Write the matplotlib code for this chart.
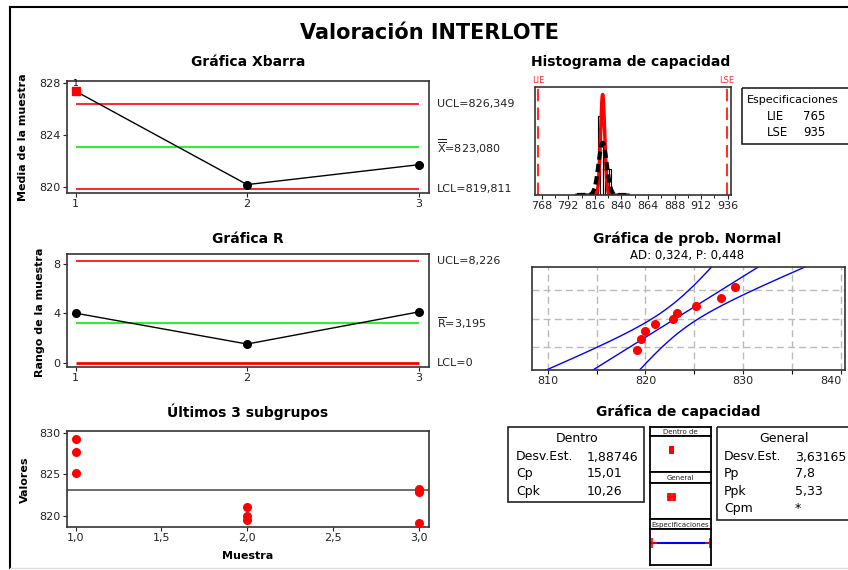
import numpy as np
import matplotlib
matplotlib.use("Agg")
import matplotlib.pyplot as plt
from matplotlib.patches import Rectangle
from matplotlib.ticker import FuncFormatter
from statistics import NormalDist

W, H = 848, 570

# --- data -------------------------------------------------------------
sample_ids = [1, 2, 3]
subgroup_1 = [825.2, 827.7, 829.2]
subgroup_2 = [819.5, 820.0, 821.0]
subgroup_3 = [819.1, 822.8, 823.2]

xbar_ucl, xbar_center, xbar_lcl = 826.349, 823.080, 819.811
r_ucl, r_center, r_lcl = 8.226, 3.195, 0.0
lie, lse = 765, 935
sd_within = 1.88746
sd_overall = 3.63165
cp, cpk = 15.01, 10.26
pp, ppk = 7.8, 5.33
ad_stat, ad_p = 0.324, 0.448

hist_ticks = [768, 792, 816, 840, 864, 888, 912, 936]
prob_ticks = [810, 820, 830, 840]
xbar_ticks = [820, 824, 828]
r_ticks = [0, 4, 8]
last_ticks_y = [820, 825, 830]
last_ticks_x = [1.0, 1.5, 2.0, 2.5, 3.0]

subgroups = [subgroup_1, subgroup_2, subgroup_3]
means = [float(np.mean(s)) for s in subgroups]
ranges = [float(np.max(s) - np.min(s)) for s in subgroups]
all_values = np.concatenate(subgroups)

RED = "#FF0000"
LRED = "#FF3030"
GREEN = "#33EE33"
BLUE = "#0000FF"
plt.rcParams["font.family"] = "DejaVu Sans"
plt.rcParams["mathtext.fontset"] = "dejavusans"


def comma(v, nd):
    return f"{v:.{nd}f}".replace(".", ",")


fig = plt.figure(figsize=(W / 100, H / 100), dpi=100)
fig.patch.set_facecolor("white")

# overlay in pixel coordinates for frame, titles and text boxes
ov = fig.add_axes([0, 0, 1, 1])
ov.set_xlim(0, W)
ov.set_ylim(H, 0)
ov.axis("off")


def px_axes(l, t, r, b):
    return fig.add_axes([l / W, 1 - b / H, (r - l) / W, (b - t) / H])


def style(ax):
    for s in ax.spines.values():
        s.set_linewidth(1.2)
        s.set_color("#333333")
    ax.tick_params(labelsize=8, length=3, width=0.8, direction="out",
                   colors="#222222", pad=1.5)


# outer frame
ov.plot([10, 10], [7, 568], color="black", lw=1.5)
ov.plot([10, W], [7, 7], color="black", lw=1.5)
ov.plot([10, W], [568, 568], color="#DDDDDD", lw=1)

ov.text(430, 33, "Valoración INTERLOTE", ha="center", va="center",
        fontsize=15, fontweight="bold")

# --- Xbar chart ---------------------------------------------------------
ov.text(248, 62, "Gráfica Xbarra", ha="center", va="center", fontsize=10, fontweight="bold")
ax = px_axes(67, 81, 429, 193)
style(ax)
ax.hlines([xbar_ucl, xbar_lcl], 1, 3, color=RED, lw=1.2)
ax.hlines(xbar_center, 1, 3, color=GREEN, lw=1.5)
ax.plot(sample_ids, means, color="black", lw=1, zorder=3)
out = [m > xbar_ucl or m < xbar_lcl for m in means]
for x, m, o in zip(sample_ids, means, out):
    if o:
        ax.plot(x, m, "s", color=RED, ms=6, zorder=4)
        ax.text(x, m + 0.25, "1", ha="center", va="bottom", fontsize=6.5)
    else:
        ax.plot(x, m, "o", color="black", ms=5.5, zorder=4)
ax.set_xlim(0.95, 3.06)
ax.set_ylim(819.52, 828.15)
ax.set_xticks(sample_ids)
ax.set_yticks(xbar_ticks)
for y, lab in [(xbar_ucl, "UCL=" + comma(xbar_ucl, 3)),
               (xbar_center, r"$\overline{\overline{\mathrm{X}}}$=" + comma(xbar_center, 3)),
               (xbar_lcl, "LCL=" + comma(xbar_lcl, 3))]:
    ax.text(1.022, y, lab, transform=ax.get_yaxis_transform(), fontsize=8,
            va="center", ha="left", color="#222222")
ov.text(23, 137, "Media de la muestra", rotation=90, ha="center", va="center",
        fontsize=8, fontweight="bold")

# --- R chart ------------------------------------------------------------
ov.text(248, 239, "Gráfica R", ha="center", va="center", fontsize=10, fontweight="bold")
ax = px_axes(67, 254, 429, 367)
style(ax)
ax.hlines([r_ucl], 1, 3, color=RED, lw=1.2)
ax.hlines([r_lcl], 1, 3, color=RED, lw=2)
ax.hlines(r_center, 1, 3, color=GREEN, lw=1.5)
ax.plot(sample_ids, ranges, color="black", lw=1, marker="o", ms=5.5, zorder=3)
ax.set_xlim(0.95, 3.06)
ax.set_ylim(-0.36, 8.79)
ax.set_xticks(sample_ids)
ax.set_yticks(r_ticks)
for y, lab in [(r_ucl, "UCL=" + comma(r_ucl, 3)),
               (r_center, r"$\overline{\mathrm{R}}$=" + comma(r_center, 3)),
               (r_lcl, "LCL=0")]:
    ax.text(1.022, y, lab, transform=ax.get_yaxis_transform(), fontsize=8,
            va="center", ha="left", color="#222222")
ov.text(40, 312, "Rango de la muestra", rotation=90, ha="center", va="center",
        fontsize=8, fontweight="bold")

# --- last subgroups -----------------------------------------------------
ov.text(248, 412, "Últimos 3 subgrupos", ha="center", va="center", fontsize=10, fontweight="bold")
ax = px_axes(67, 431, 429, 527)
style(ax)
ax.axhline(xbar_center, color="#555555", lw=1.2)
for x, s in zip(sample_ids, subgroups):
    ax.plot([x] * len(s), s, "o", color=RED, ms=5.5, zorder=3)
ax.set_xlim(0.95, 3.06)
ax.set_ylim(818.64, 830.2)
ax.set_xticks(last_ticks_x)
ax.set_yticks(last_ticks_y)
ax.xaxis.set_major_formatter(FuncFormatter(lambda v, p: comma(v, 1)))
ov.text(25, 480, "Valores", rotation=90, ha="center", va="center",
        fontsize=8, fontweight="bold")
ov.text(248, 556, "Muestra", ha="center", va="center", fontsize=8, fontweight="bold")

# --- capability histogram -----------------------------------------------
ov.text(631, 62, "Histograma de capacidad", ha="center", va="center", fontsize=10, fontweight="bold")
ax = px_axes(535, 87, 731, 195)
style(ax)
ax.hist(all_values, bins=np.arange(819, 832, 2), density=True,
        facecolor="white", edgecolor="black", linewidth=0.8)
xs = np.linspace(800, 846, 500)
ax.plot(xs, np.array([NormalDist(xbar_center, sd_within).pdf(v) for v in xs]),
        color=RED, lw=2.5)
ax.plot(xs, np.array([NormalDist(xbar_center, sd_overall).pdf(v) for v in xs]),
        color="black", lw=3, dashes=(2, 1))
ax.axvline(lie, color=LRED, lw=1.5, dashes=(6, 3))
ax.axvline(lse, color=LRED, lw=1.5, dashes=(6, 3))
ax.set_xlim(762, 939)
ax.set_ylim(0, 0.227)
ax.set_yticks([])
ax.set_xticks(hist_ticks)
ax.set_xticks(np.arange(780, 936, 12), minor=True)
ax.tick_params(which="minor", length=2, width=0.6)
for v, lab in [(lie, "LIE"), (lse, "LSE")]:
    ax.text(v, 1.02, lab, transform=ax.get_xaxis_transform(), color=LRED,
            fontsize=6, ha="center", va="bottom")

# specifications box
ov.add_patch(Rectangle((742, 88), 120, 56, fill=False, ec="#222222", lw=1.2))
ov.text(747, 100, "Especificaciones", fontsize=8, va="center", ha="left")
ov.text(767, 117, "LIE", fontsize=8.5, va="center", ha="left")
ov.text(803, 117, str(lie), fontsize=8.5, va="center", ha="left")
ov.text(767, 133, "LSE", fontsize=8.5, va="center", ha="left")
ov.text(803, 133, str(lse), fontsize=8.5, va="center", ha="left")

# --- normal probability plot ---------------------------------------------
ov.text(687, 239, "Gráfica de prob. Normal", ha="center", va="center", fontsize=10, fontweight="bold")
ov.text(687, 255, f"AD: {comma(ad_stat, 3)}, P: {comma(ad_p, 3)}", ha="center",
        va="center", fontsize=8.5)
ax = px_axes(532, 267, 845, 370)
style(ax)
nd = NormalDist()
n = len(all_values)
srt = np.sort(all_values)
zpos = [nd.inv_cdf((i + 1 - 0.3) / (n + 0.4)) for i in range(n)]
zz = np.linspace(-3, 3, 200)
fit = xbar_center + zz * sd_overall
half = 1.96 * sd_overall * np.sqrt(1 / n + zz ** 2 / (2 * (n - 1)))
ax.plot(fit, zz, color=BLUE, lw=1)
ax.plot(fit - half, zz, color=BLUE, lw=1)
ax.plot(fit + half, zz, color=BLUE, lw=1)
ax.plot(srt, zpos, "o", color=RED, ms=5.5, zorder=4)
ax.set_xlim(808.4, 840.4)
zlim = nd.inv_cdf(0.99)
ax.set_ylim(-zlim, zlim)
ax.set_xticks(prob_ticks)
ax.set_xticks(np.arange(815, 840, 10), minor=True)
ax.set_yticks([nd.inv_cdf(p) for p in (0.1, 0.5, 0.9)])
ax.set_yticklabels([])
ax.tick_params(axis="y", length=0)
ax.tick_params(which="minor", length=3, width=0.8)
ax.grid(True, which="both", color="#BBBBBB", lw=1, dashes=(5, 3))
ax.set_axisbelow(True)
ax.get_xticklabels()[-1].set_horizontalalignment("right")

# --- capability plot ----------------------------------------------------
ov.text(678, 412, "Gráfica de capacidad", ha="center", va="center", fontsize=10, fontweight="bold")
ov.add_patch(Rectangle((508, 427), 136, 75, fill=False, ec="#222222", lw=1.2))
ov.text(577, 438, "Dentro", fontsize=9, ha="center", va="center")
for y, lab, val in [(457, "Desv.Est.", comma(sd_within, 5)),
                    (474, "Cp", comma(cp, 2)),
                    (491.5, "Cpk", comma(cpk, 2))]:
    ov.text(516, y, lab, fontsize=9, ha="left", va="center")
    ov.text(587, y, val, fontsize=9, ha="left", va="center")

ov.add_patch(Rectangle((717, 427), 140, 93, fill=False, ec="#222222", lw=1.2))
ov.text(784, 438, "General", fontsize=9, ha="center", va="center")
for y, lab, val in [(457, "Desv.Est.", comma(sd_overall, 5)),
                    (474, "Pp", comma(pp, 1)),
                    (491.5, "Ppk", comma(ppk, 2)),
                    (508.5, "Cpm", "*")]:
    ov.text(724, y, lab, fontsize=9, ha="left", va="center")
    ov.text(795, y, val, fontsize=9, ha="left", va="center")

panels = [("Dentro de", 427, 436, 472, sd_within),
          ("General", 472, 483, 519, sd_overall),
          ("Especificaciones", 519, 529, 565, None)]
for lab, t, m, b, sd in panels:
    hx = px_axes(650, t, 711, m)
    hx.set_xticks([])
    hx.set_yticks([])
    for s in hx.spines.values():
        s.set_linewidth(1.3)
    hx.text(0.5, 0.45, lab, transform=hx.transAxes, fontsize=5, ha="center",
            va="center", color="#222222")
    bx = px_axes(650, m, 711, b)
    bx.set_xticks([])
    bx.set_yticks([])
    for s in bx.spines.values():
        s.set_linewidth(1.3)
    bx.set_xlim(760, 939)
    bx.set_ylim(0, 1)
    if sd is not None:
        ks = np.arange(-3, 4)
        pts = xbar_center + ks * sd
        bx.plot([pts[0], pts[-1]], [0.6, 0.6], color=RED, lw=1.5)
        bx.plot(pts, [0.6] * len(pts), "|", color=RED, ms=6, mew=1.2)
    else:
        bx.plot([lie, lse], [0.6, 0.6], color=BLUE, lw=1.5)
        bx.plot([lie, lse], [0.6, 0.6], "+", color=RED, ms=7, mew=1.2)

fig.savefig("out.png", dpi=100, facecolor="white")
